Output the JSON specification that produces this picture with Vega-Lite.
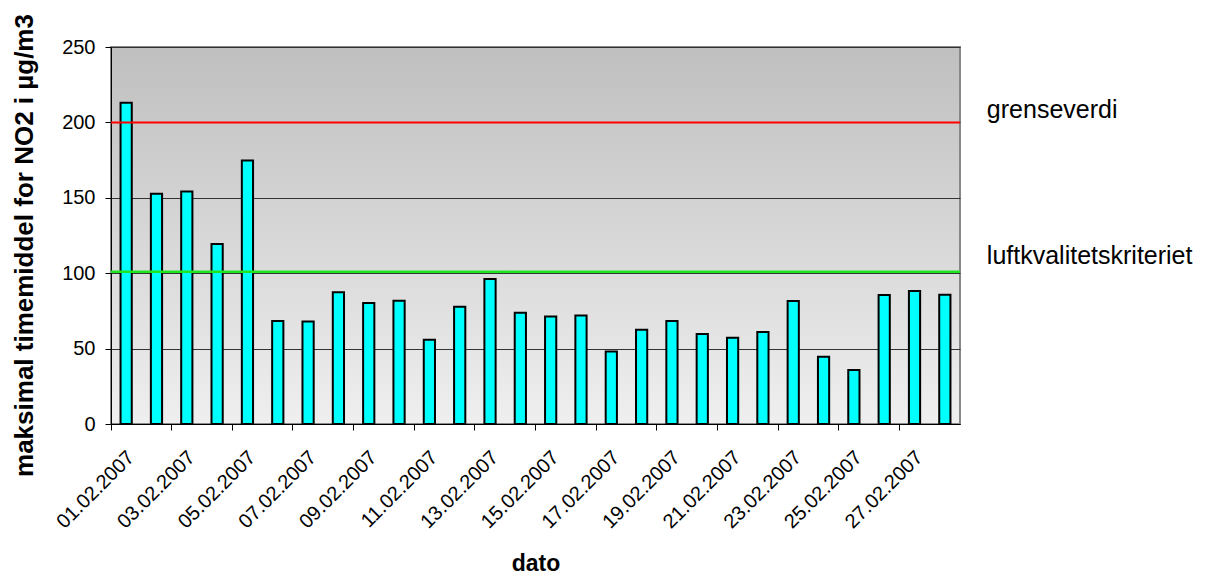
{
  "$schema": "https://vega.github.io/schema/vega-lite/v6.json",
  "autosize": {"type": "none"},
  "padding": {"left": 111, "top": 47, "right": 248, "bottom": 150},
  "width": 849,
  "height": 377,
  "background": "white",
  "config": {
    "font": "Liberation Sans",
    "view": {
      "stroke": "#888888",
      "strokeWidth": 2,
      "fill": {
        "gradient": "linear",
        "x1": 0, "y1": 0, "x2": 0, "y2": 1,
        "stops": [
          {"offset": 0, "color": "#bfbfbf"},
          {"offset": 1, "color": "#efefef"}
        ]
      }
    }
  },
  "layer": [
    {
      "data": {
        "values": [
          {"dato": "01.02.2007", "no2": 213},
          {"dato": "02.02.2007", "no2": 152.7},
          {"dato": "03.02.2007", "no2": 154.2},
          {"dato": "04.02.2007", "no2": 119.4},
          {"dato": "05.02.2007", "no2": 174.8},
          {"dato": "06.02.2007", "no2": 68.3},
          {"dato": "07.02.2007", "no2": 68},
          {"dato": "08.02.2007", "no2": 87.3},
          {"dato": "09.02.2007", "no2": 80.2},
          {"dato": "10.02.2007", "no2": 81.8},
          {"dato": "11.02.2007", "no2": 55.9},
          {"dato": "12.02.2007", "no2": 77.8},
          {"dato": "13.02.2007", "no2": 96.2},
          {"dato": "14.02.2007", "no2": 73.8},
          {"dato": "15.02.2007", "no2": 71.3},
          {"dato": "16.02.2007", "no2": 72},
          {"dato": "17.02.2007", "no2": 48},
          {"dato": "18.02.2007", "no2": 62.5},
          {"dato": "19.02.2007", "no2": 68.3},
          {"dato": "20.02.2007", "no2": 59.7},
          {"dato": "21.02.2007", "no2": 57.2},
          {"dato": "22.02.2007", "no2": 61},
          {"dato": "23.02.2007", "no2": 81.6},
          {"dato": "24.02.2007", "no2": 44.6},
          {"dato": "25.02.2007", "no2": 35.8},
          {"dato": "26.02.2007", "no2": 85.5},
          {"dato": "27.02.2007", "no2": 88.2},
          {"dato": "28.02.2007", "no2": 85.7}
        ]
      },
      "mark": {"type": "bar", "fill": "#00ffff", "stroke": "#000000", "strokeWidth": 2, "width": {"band": 0.37}},
      "encoding": {
        "x": {
          "field": "dato", "type": "nominal", "sort": null,
          "scale": {"paddingInner": 0, "paddingOuter": 0},
          "axis": {
            "title": "dato",
            "titleFont": "Liberation Sans",
            "titleFontSize": 23,
            "titleFontWeight": "bold",
            "titleColor": "#000000",
            "titleBaseline": "alphabetic",
            "titleAlign": "center",
            "titleY": 146,
            "values": ["01.02.2007", "03.02.2007", "05.02.2007", "07.02.2007", "09.02.2007", "11.02.2007", "13.02.2007", "15.02.2007", "17.02.2007", "19.02.2007", "21.02.2007", "23.02.2007", "25.02.2007", "27.02.2007"],
            "bandPosition": 0,
            "labelAngle": -45,
            "labelAlign": "right",
            "labelBaseline": "middle",
            "labelOffset": 5,
            "labelPadding": 24,
            "labelFontSize": 20,
            "labelColor": "#000000",
            "labelOverlap": false,
            "labelBound": false,
            "labelFlush": false,
            "tickSize": 6,
            "tickColor": "#000000",
            "domainColor": "#000000",
            "domainWidth": 1,
            "grid": false
          }
        },
        "y": {
          "field": "no2", "type": "quantitative",
          "scale": {"domain": [0, 250], "nice": false},
          "axis": {
            "title": "maksimal timemiddel for NO2 i µg/m3",
            "titleFont": "Liberation Sans",
            "titleFontSize": 26,
            "titleFontWeight": "bold",
            "titleColor": "#000000",
            "titleAngle": 270,
            "titleBaseline": "alphabetic",
            "titleAlign": "center",
            "titleX": -79,
            "titleY": 198,
            "values": [0, 50, 100, 150, 200, 250],
            "labelFontSize": 20,
            "labelColor": "#000000",
            "labelPadding": 10,
            "tickSize": 6,
            "tickColor": "#000000",
            "domainColor": "#000000",
            "grid": true,
            "gridColor": "#333333",
            "gridWidth": 1
          }
        }
      }
    },
    {
      "data": {"values": [{"navn": "grenseverdi", "verdi": 200}]},
      "mark": {"type": "rule", "color": "#ff0000", "strokeWidth": 2},
      "encoding": {"y": {"field": "verdi", "type": "quantitative"}}
    },
    {
      "data": {"values": [{"navn": "luftkvalitetskriteriet", "verdi": 100}]},
      "mark": {"type": "rule", "color": "#1ee61e", "strokeWidth": 2.5, "yOffset": -1.5},
      "encoding": {"y": {"field": "verdi", "type": "quantitative"}}
    },
    {
      "data": {"values": [{"navn": "grenseverdi", "verdi": 200}]},
      "mark": {"type": "text", "align": "left", "baseline": "alphabetic", "fontSize": 25, "color": "#000000", "dx": 42, "dy": -4},
      "encoding": {"x": {"datum": "28.02.2007"}, "y": {"field": "verdi", "type": "quantitative"}, "text": {"field": "navn"}}
    },
    {
      "data": {"values": [{"navn": "luftkvalitetskriteriet", "verdi": 100}]},
      "mark": {"type": "text", "align": "left", "baseline": "alphabetic", "fontSize": 25, "color": "#000000", "dx": 42, "dy": -9.5},
      "encoding": {"x": {"datum": "28.02.2007"}, "y": {"field": "verdi", "type": "quantitative"}, "text": {"field": "navn"}}
    }
  ]
}
